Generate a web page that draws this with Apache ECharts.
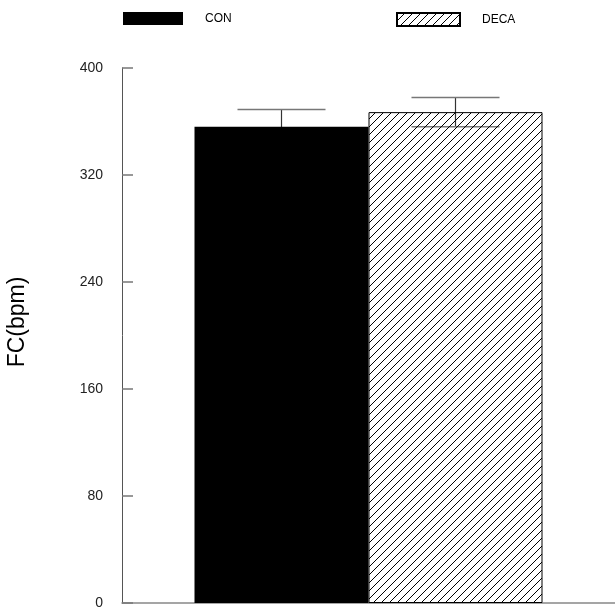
<!DOCTYPE html>
<html>
<head>
<meta charset="utf-8">
<script src="https://cdn.jsdelivr.net/npm/echarts@6/dist/echarts.min.js"></script>
<style>
  html, body { margin: 0; padding: 0; background: #fff; }
  #chart { width: 615px; height: 610px; }
</style>
</head>
<body>
<div id="chart"></div>
<script>
// Heart rate (FC) per group, mean ± SE
const groups = ['CON', 'DECA'];
const means = [356, 367];
const errors = [13, 11];
const yTicks = [0, 80, 160, 240, 320, 400];
const yTitle = 'FC(bpm)';

// Diagonal hatch (transparent background) for the DECA bar
function hatchPattern() {
  const s = 8;
  const c = document.createElement('canvas');
  c.width = s; c.height = s;
  const ctx = c.getContext('2d');
  ctx.strokeStyle = '#000';
  ctx.lineWidth = 1;
  ctx.beginPath();
  ctx.moveTo(0, s); ctx.lineTo(s, 0);
  ctx.moveTo(-1, 1); ctx.lineTo(1, -1);
  ctx.moveTo(s - 1, s + 1); ctx.lineTo(s + 1, s - 1);
  ctx.stroke();
  return c;
}

const BAR_W = 174;
const FONT = 'Liberation Sans, Arial, sans-serif';
const fills = [
  { color: '#000', borderColor: '#000', borderWidth: 0 },
  { color: { image: hatchPattern(), repeat: 'repeat' }, borderColor: '#000', borderWidth: 1 }
];

const barSeries = groups.map((g, i) => ({
  name: g,
  type: 'bar',
  barWidth: BAR_W,
  barGap: '0%',
  itemStyle: fills[i],
  data: [means[i]],
  z: 3
}));

// Error bars drawn behind the bars, at each bar's centre
const errorSeries = {
  type: 'custom',
  z: 1,
  data: groups.map((g, i) => [i, means[i] - errors[i], means[i] + errors[i]]),
  renderItem: function (params, api) {
    const idx = api.value(0);
    const center = api.coord([0, 0])[0];
    const x = center + (idx - 0.5) * BAR_W;
    const lo = api.coord([0, api.value(1)])[1];
    const hi = api.coord([0, api.value(2)])[1];
    const half = 44;
    const capStyle = { stroke: '#777', lineWidth: 1.5 };
    return {
      type: 'group',
      children: [
        { type: 'line', shape: { x1: x, y1: lo, x2: x, y2: hi }, style: { stroke: '#333', lineWidth: 1.2 } },
        { type: 'line', shape: { x1: x - half, y1: hi, x2: x + half, y2: hi }, style: capStyle },
        { type: 'line', shape: { x1: x - half, y1: lo, x2: x + half, y2: lo }, style: capStyle }
      ]
    };
  }
};

const legendText = { fontFamily: FONT, fontSize: 12, color: '#000', padding: [0, 0, 0, 17] };

const chart = echarts.init(document.getElementById('chart'), null, { renderer: 'canvas' });
chart.setOption({
  animation: false,
  backgroundColor: '#fff',
  grid: { left: 122, right: 0, top: 68, bottom: 7, containLabel: false },
  legend: [
    {
      data: [groups[0]], left: 123, top: 12, padding: 0, icon: 'rect',
      itemWidth: 60, itemHeight: 13, itemGap: 0, textStyle: legendText
    },
    {
      data: [groups[1]], left: 396, top: 12, padding: 0, icon: 'rect',
      itemWidth: 63, itemHeight: 13, itemGap: 0, textStyle: legendText
    }
  ],
  xAxis: {
    type: 'category',
    data: [''],
    axisLine: { show: true, lineStyle: { color: '#888', width: 1.5 } },
    axisTick: { show: false },
    axisLabel: { show: false }
  },
  yAxis: {
    type: 'value',
    min: yTicks[0],
    max: yTicks[yTicks.length - 1],
    interval: yTicks[1] - yTicks[0],
    splitLine: { show: false },
    axisLine: { show: true, lineStyle: { color: '#555', width: 1 } },
    axisTick: { show: true, inside: true, length: 11, lineStyle: { color: '#777', width: 1.5 } },
    axisLabel: { margin: 19, fontFamily: FONT, fontSize: 14, color: '#222' }
  },
  graphic: [{
    type: 'text',
    x: 18, y: 322,
    rotation: Math.PI / 2,
    style: {
      text: yTitle, fontFamily: FONT, fontSize: 23, fill: '#000',
      align: 'center', verticalAlign: 'middle'
    }
  }],
  series: [...barSeries, errorSeries]
});
</script>
</body>
</html>
